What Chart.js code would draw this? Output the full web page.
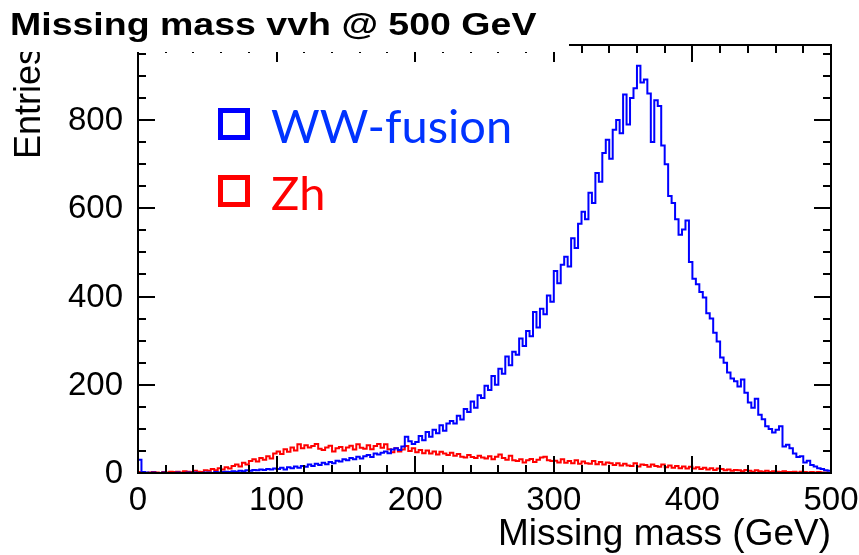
<!DOCTYPE html>
<html>
<head>
<meta charset="utf-8">
<title>Missing mass vvh @ 500 GeV</title>
<script src="https://cdn.jsdelivr.net/npm/chart.js@4.4.1/dist/chart.umd.min.js"></script>
<style>
  html, body { margin: 0; padding: 0; background: #fff; }
  canvas { display: block; }
</style>
</head>
<body>
<canvas id="missingMass" width="859" height="555"></canvas>
<script>
// histogram bins: 200 bins of 2.5 GeV from 0 to 500 GeV
const binWidth = 2.5;

const wwFusion = [
  30, 2, 1, 0, 1, 0, 0, 1, 0, 0,
  0, 1, 0, 0, 1, 0, 1, 0, 0, 1,
  1, 0, 2, 1, 2, 3, 2, 4, 3, 5,
  4, 6, 5, 7, 6, 8, 7, 9, 8, 10,
  9, 12, 8, 13, 11, 15, 12, 16, 14, 19,
  16, 21, 18, 23, 20, 25, 22, 28, 26, 31,
  29, 34, 31, 37, 33, 38, 41, 36, 44, 42,
  46, 49, 45, 53, 56, 52, 60, 82, 72, 66,
  70, 84, 74, 93, 82, 98, 90, 108, 96, 112,
  118, 112, 130, 121, 145, 138, 162, 148, 176, 170,
  198, 188, 220, 200, 236, 225, 264, 244, 275, 268,
  305, 288, 322, 310, 365, 330, 372, 360, 402, 388,
  458, 430, 472, 490, 468, 532, 510, 565, 592, 575,
  635, 612, 680, 660, 725, 755, 712, 778, 800, 770,
  858, 790, 850, 872, 923, 885, 892, 860, 750, 845,
  832, 742, 700, 628, 612, 575, 540, 552, 572, 478,
  440, 428, 410, 398, 362, 350, 318, 298, 262, 250,
  228, 214, 208, 196, 212, 182, 160, 148, 168, 132,
  122, 106, 100, 92, 98, 106, 60, 64, 56, 44,
  36, 38, 24, 28, 18, 15, 11, 9, 6, 5
];

const zh = [
  2, 1, 0, 1, 2, 1, 0, 2, 1, 3,
  2, 3, 1, 4, 3, 2, 5, 3, 2, 6,
  5, 9, 6, 11, 8, 13, 10, 16, 19, 15,
  23, 19, 27, 31, 26, 34, 30, 38, 33, 44,
  49, 43, 54, 48, 58, 51, 65, 56, 63, 58,
  61, 66, 55, 52, 58, 62, 49, 56, 59, 51,
  58, 62, 53, 65, 57, 55, 63, 54, 61, 66,
  57, 65, 54, 47, 56, 49, 53, 61, 50, 56,
  47, 52, 45, 51, 44, 49, 42, 48, 44, 41,
  46, 39, 43, 37, 35, 41, 36, 34, 39, 35,
  33, 38, 31, 37, 42, 34, 30, 39, 29, 27,
  31, 24, 29, 32, 25, 30, 35, 37, 29, 27,
  28, 24, 31, 23, 27, 22, 29, 21, 26, 22,
  21, 27, 20, 25, 19, 24, 22, 18, 22, 17,
  21, 17, 16, 22, 15, 19, 18, 14, 19, 16,
  14, 19, 13, 17, 12, 16, 11, 15, 10, 14,
  10, 13, 9, 12, 8, 11, 7, 10, 9, 6,
  8, 5, 7, 6, 4, 7, 5, 3, 6, 4,
  3, 5, 2, 4, 3, 2, 4, 2, 2, 3,
  1, 3, 2, 1, 2, 1, 2, 1, 1, 0
];

const xTickLabels = [0, 100, 200, 300, 400, 500];
const yTickLabels = [0, 200, 400, 600, 800];

const xMax = 500;
const yMax = 970;

// left bin edges + closing edge, drawn as a step line
function histPoints(values) {
  const pts = values.map((v, i) => ({ x: i * binWidth, y: v }));
  pts.push({ x: values.length * binWidth, y: values[values.length - 1] });
  return pts;
}

const frameFont = '"Liberation Sans", Arial, sans-serif';

// frame, inward ticks, labels, title and legend in ROOT style
const rootFrame = {
  id: 'rootFrame',
  afterDraw(chart) {
    const ctx = chart.ctx;
    const xs = chart.scales.x;
    const ys = chart.scales.y;
    const { left, right, top, bottom } = chart.chartArea;

    ctx.save();
    ctx.strokeStyle = '#000';
    ctx.lineWidth = 2;
    ctx.strokeRect(left, top, right - left, bottom - top);

    ctx.beginPath();
    for (let v = 0; v <= xMax; v += 20) {
      const px = Math.round(xs.getPixelForValue(v));
      const len = v % 100 === 0 ? 17 : 8;
      ctx.moveTo(px, bottom);
      ctx.lineTo(px, bottom - len);
      ctx.moveTo(px, top);
      ctx.lineTo(px, top + len);
    }
    for (let v = 0; v <= yMax; v += 50) {
      const py = Math.round(ys.getPixelForValue(v));
      const len = v % 200 === 0 ? 17 : 8;
      ctx.moveTo(left, py);
      ctx.lineTo(left + len, py);
      ctx.moveTo(right, py);
      ctx.lineTo(right - len, py);
    }
    ctx.stroke();

    ctx.fillStyle = '#000';
    ctx.font = '33px ' + frameFont;
    ctx.textAlign = 'center';
    ctx.textBaseline = 'alphabetic';
    xTickLabels.forEach(v => ctx.fillText(String(v), xs.getPixelForValue(v), 510));
    ctx.textAlign = 'right';
    ctx.textBaseline = 'middle';
    yTickLabels.forEach(v => ctx.fillText(String(v), 123, ys.getPixelForValue(v) + 1));

    ctx.font = '37px ' + frameFont;
    ctx.textAlign = 'right';
    ctx.textBaseline = 'alphabetic';
    ctx.fillText('Missing mass (GeV)', right, 545);

    ctx.save();
    ctx.translate(40, top + 2);
    ctx.rotate(-Math.PI / 2);
    ctx.font = '36px ' + frameFont;
    ctx.textAlign = 'right';
    ctx.fillText('Entries', 0, 0);
    ctx.restore();

    // title pad sits over the top edge of the frame
    ctx.fillStyle = '#fff';
    ctx.fillRect(0, 0, 569, 52);
    ctx.save();
    ctx.fillStyle = '#000';
    ctx.font = 'bold 37.5px ' + frameFont;
    ctx.textAlign = 'left';
    ctx.translate(10, 35);
    ctx.scale(1, 0.85);
    ctx.fillText('Missing mass vvh @ 500 GeV', 0, 0);
    ctx.restore();

    // legend
    const entries = [
      { label: 'WW-fusion', box: '#0000ff', text: '#0033ff', y: 110 },
      { label: 'Zh', box: '#ff0000', text: '#ff0000', y: 177 }
    ];
    ctx.lineWidth = 5;
    ctx.font = '47px Lato, "Open Sans", sans-serif';
    ctx.textAlign = 'left';
    entries.forEach(e => {
      ctx.strokeStyle = e.box;
      ctx.strokeRect(220.5, e.y + 0.5, 27, 27);
      ctx.fillStyle = e.text;
      ctx.fillText(e.label, 271, e.y + 33);
    });
    ctx.restore();
  }
};

new Chart(document.getElementById('missingMass'), {
  type: 'line',
  data: {
    datasets: [
      {
        label: 'WW-fusion',
        data: histPoints(wwFusion),
        borderColor: '#0000ff',
        borderWidth: 2,
        stepped: true,
        pointRadius: 0,
        fill: false
      },
      {
        label: 'Zh',
        data: histPoints(zh),
        borderColor: '#ff0000',
        borderWidth: 2,
        stepped: true,
        pointRadius: 0,
        fill: false
      }
    ]
  },
  options: {
    responsive: false,
    animation: false,
    layout: { padding: { left: 138, right: 28, top: 45, bottom: 82 } },
    scales: {
      x: {
        type: 'linear',
        min: 0,
        max: xMax,
        display: false
      },
      y: {
        min: 0,
        max: yMax,
        display: false
      }
    },
    plugins: {
      legend: { display: false },
      tooltip: { enabled: false }
    }
  },
  plugins: [rootFrame]
});
</script>
</body>
</html>
